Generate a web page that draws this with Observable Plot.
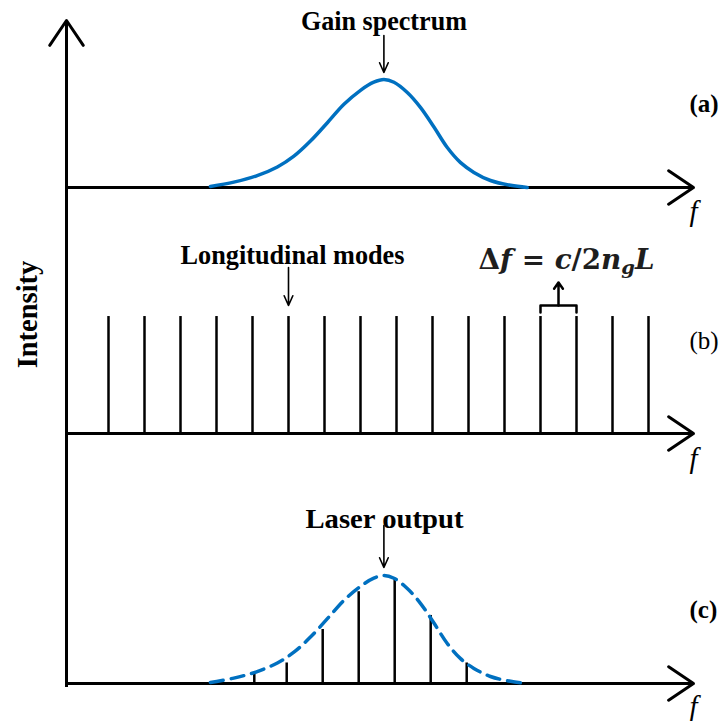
<!DOCTYPE html>
<html><head><meta charset="utf-8">
<script src="https://cdn.jsdelivr.net/npm/d3@7"></script>
<script src="https://cdn.jsdelivr.net/npm/@observablehq/plot@0.6"></script>
<style>
html,body{margin:0;padding:0;background:#fff;}
#chart{width:723px;}
#chart svg{display:block;overflow:visible;}
</style></head><body><div id="chart"></div>
<script>
// ---------- data ----------
// frequency in units of the longitudinal-mode spacing; intensity relative to gain peak
const modeFreqs = [1, 2, 3, 4, 5, 6, 7, 8, 9, 10, 11, 12, 13, 14, 15, 16];
const modeIntensity = [1.083, 1.083, 1.083, 1.083, 1.083, 1.083, 1.083, 1.083, 1.083, 1.083, 1.083, 1.083, 1.083, 1.083, 1.083, 1.083];

const gainFreqs =     [3.83, 4.48, 5.13, 5.69, 6.15, 6.61, 7.08, 7.54, 8.0, 8.37, 8.65, 8.93, 9.30, 9.67, 10.04, 10.41, 10.78, 11.15, 11.61, 12.17, 12.63];
const gainIntensity = [0.01, 0.05, 0.11, 0.19, 0.29, 0.43, 0.60, 0.77, 0.90, 0.975, 1.00, 0.975, 0.88, 0.74, 0.56, 0.37, 0.23, 0.14, 0.065, 0.02, 0.0];

const envelopeFreqs =     [3.83, 4.48, 5.13, 5.69, 6.15, 6.61, 7.08, 7.54, 8.0, 8.37, 8.65, 8.93, 9.30, 9.67, 10.04, 10.41, 10.78, 11.15, 11.61, 12.17, 12.63];
const envelopeIntensity = [0.01, 0.05, 0.11, 0.19, 0.29, 0.43, 0.60, 0.77, 0.90, 0.975, 1.00, 0.975, 0.88, 0.74, 0.56, 0.37, 0.23, 0.14, 0.065, 0.02, 0.0];

const laserFreqs =     [5.05, 5.95, 6.95, 7.95, 8.95, 9.95, 10.95, 12.1];
const laserIntensity = [0.085, 0.19, 0.50, 0.85, 0.97, 0.63, 0.19, 0.025];

const panelLabels = ["(a)", "(b)", "(c)"];
const axisName = "f";
const yAxisName = "Intensity";
const annotationTexts = ["Gain spectrum", "Longitudinal modes", "Laser output"];
const spacingFormula = "Δf = c/2ngL";

// ---------- layout ----------
const W = 723;
const X0 = -1 / 6, X1 = 17.25;               // frequency axis extent
const PX = 108;                               // pixels per intensity unit
const BLUE = "#0070C0";
const SERIF = "'Liberation Serif', 'Times New Roman', serif";
const fx = px => (px - 72) / 36;              // pixel -> frequency (layout helper)

const series = (f, v) => f.map((d, i) => ({f: d, v: v[i]}));

function panel(height, base, build) {
  const v = px => (base - px) / PX;
  return Plot.plot({
    width: W, height,
    x: {domain: [X0, X1], range: [66, 693], axis: null},
    y: {domain: [0, 1], range: [base, base - PX], axis: null},
    style: {background: "white", overflow: "visible"},
    marks: build(v)
  });
}

const txt = {fontFamily: SERIF, fontWeight: "bold", fontSize: 28, fill: "black", lineAnchor: "bottom"};
const axisArrow = {stroke: "black", strokeWidth: 3, headLength: 15, headAngle: 68};
const pointer = {stroke: "black", strokeWidth: 1.6, headLength: 10, headAngle: 48};

const fLabel = v => Plot.text([axisName], {x: X1, y: v, text: d => d, fontFamily: SERIF, fontStyle: "italic", fontSize: 29, fill: "black"});
const panelLabel = (s, v, weight) => Plot.text([s], {x: fx(689), y: v, text: d => d, textAnchor: "start", fontFamily: SERIF, fontWeight: weight, fontSize: 25, fill: "black"});

// Panel (a): gain spectrum
const svgA = panel(228, 187, v => [
  Plot.arrow([0], {x1: X0, x2: X1, y1: 0, y2: 0, ...axisArrow}),
  Plot.arrow([0], {x1: X0, x2: X0, y1: v(228), y2: v(20), ...axisArrow}),
  Plot.line(series(gainFreqs, gainIntensity), {x: "f", y: "v", stroke: BLUE, strokeWidth: 3.5, curve: "catmull-rom"}),
  Plot.text([annotationTexts[0]], {x: 8.65, y: v(29), text: d => d, ...txt}),
  Plot.arrow([0], {x1: 8.65, x2: 8.65, y1: v(35), y2: v(72), ...pointer}),
  panelLabel(panelLabels[0], v(103), "bold"),
  fLabel(v(211))
]);

// Panel (b): longitudinal modes
const svgB = panel(247, 205, v => [
  Plot.arrow([0], {x1: X0, x2: X1, y1: 0, y2: 0, ...axisArrow}),
  Plot.ruleX([X0], {y1: v(0), y2: v(247), stroke: "black", strokeWidth: 3}),
  Plot.ruleX(series(modeFreqs, modeIntensity), {x: "f", y1: 0, y2: "v", stroke: "black", strokeWidth: 2.5}),
  Plot.text([annotationTexts[1]], {x: fx(292), y: v(35), text: d => d, ...txt}),
  Plot.arrow([0], {x1: modeFreqs[5], x2: modeFreqs[5], y1: v(39), y2: v(77), ...pointer}),
  Plot.line([
    {f: modeFreqs[12], v: v(84)}, {f: modeFreqs[12], v: v(77)},
    {f: modeFreqs[13], v: v(77)}, {f: modeFreqs[13], v: v(84)}
  ], {x: "f", y: "v", stroke: "black", strokeWidth: 2.5, strokeLinejoin: "round"}),
  Plot.arrow([0], {x1: (modeFreqs[12] + modeFreqs[13]) / 2, x2: (modeFreqs[12] + modeFreqs[13]) / 2, y1: v(77), y2: v(54), stroke: "black", strokeWidth: 2.5, headLength: 9, headAngle: 70}),
  Plot.text([spacingFormula], {x: fx(566), y: v(40), text: d => d, fontFamily: "'DejaVu Serif', serif", fontWeight: "bold", fontSize: 27, fill: "#1e1e1e", lineAnchor: "bottom"}),
  Plot.text([yAxisName], {x: fx(27), y: v(86), text: d => d, rotate: -90, fontFamily: SERIF, fontWeight: "bold", fontSize: 28.5, fill: "black"}),
  panelLabel(panelLabels[1], v(112), "normal"),
  fLabel(v(230))
]);

// Panel (c): laser output
const svgC = panel(246, 208, v => [
  Plot.arrow([0], {x1: X0, x2: X1, y1: 0, y2: 0, ...axisArrow}),
  Plot.ruleX([X0], {y1: v(-1), y2: v(212), stroke: "black", strokeWidth: 3}),
  Plot.ruleX(series(laserFreqs, laserIntensity), {x: "f", y1: 0, y2: "v", stroke: "black", strokeWidth: 2.5}),
  Plot.line(series(envelopeFreqs, envelopeIntensity), {x: "f", y: "v", stroke: BLUE, strokeWidth: 3.5, strokeDasharray: "13,8", curve: "catmull-rom"}),
  Plot.text([annotationTexts[2]], {x: fx(384), y: v(52), text: d => d, ...txt}),
  Plot.arrow([0], {x1: 8.65, x2: 8.65, y1: v(50), y2: v(92), ...pointer}),
  panelLabel(panelLabels[2], v(134), "bold"),
  fLabel(v(231))
]);

const chart = document.getElementById("chart");
[svgA, svgB, svgC].forEach(s => chart.appendChild(s));

// fit annotation widths to the reference's condensed lettering
const fit = (svg, content, width, adjust) => {
  d3.select(svg).selectAll("text").filter(function () { return this.textContent === content; })
    .attr("textLength", width).attr("lengthAdjust", adjust || "spacingAndGlyphs");
};
fit(svgA, annotationTexts[0], 166);
fit(svgB, annotationTexts[1], 224);
fit(svgC, annotationTexts[2], 158);

// Format the spacing formula: italic variables, subscript g
const ft = d3.select(svgB).selectAll("text").filter(function () { return this.textContent === spacingFormula; });
if (!ft.empty()) {
  const raw = ft.text();
  ft.text(null);
  const subIdx = raw.indexOf("g");
  [...raw].forEach((ch, i) => {
    const sp = ft.append("tspan").text(ch === " " ? "\u00a0" : ch);
    if (/[a-zA-Z]/.test(ch)) sp.attr("font-style", "italic");
    if (i === subIdx) sp.attr("font-size", "0.7em").attr("dy", "0.3em");
    if (i === subIdx + 1) sp.attr("dy", "-0.21em");
  });
  ft.attr("textLength", 176).attr("lengthAdjust", "spacingAndGlyphs");
}
</script></body></html>
